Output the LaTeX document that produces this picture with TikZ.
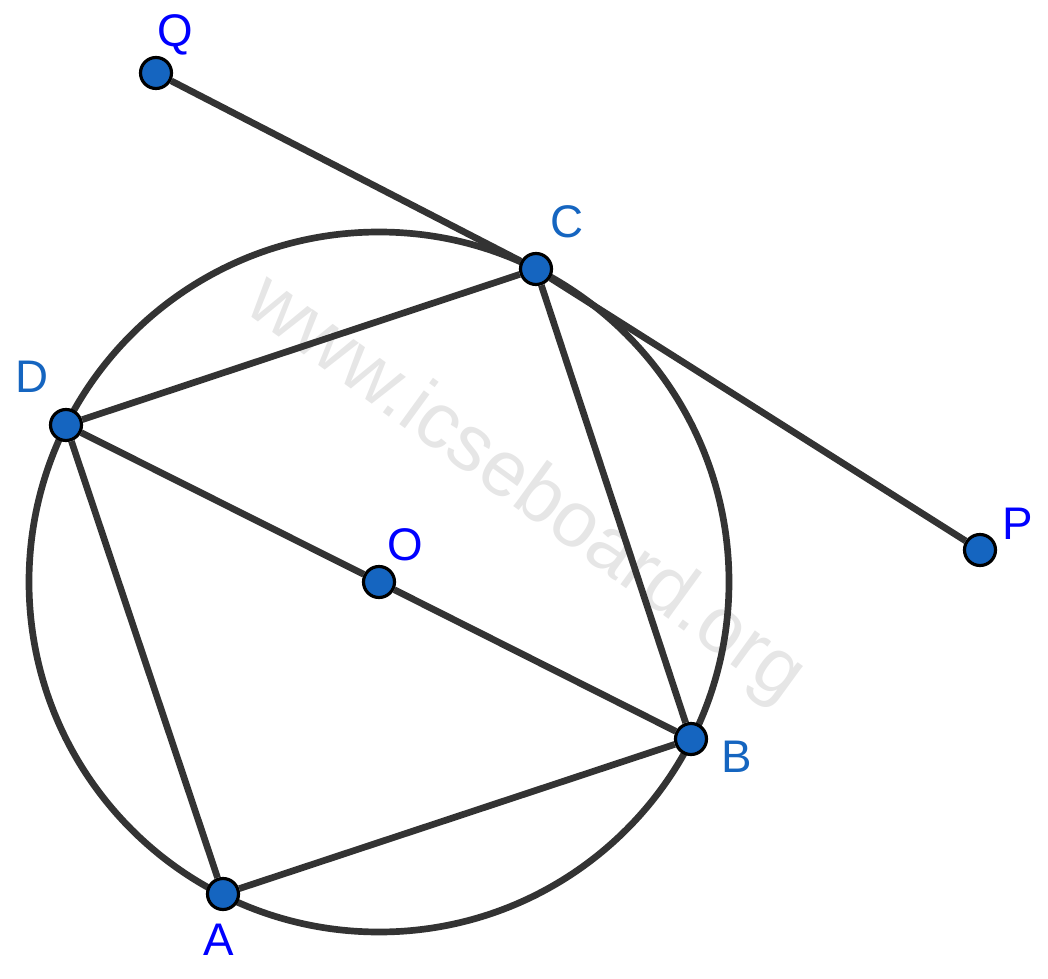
\documentclass[tikz,border=0pt]{standalone}
\usepackage{fontspec}
\setmainfont{Liberation Sans}
\usepackage{tikz}

\definecolor{segcol}{HTML}{333333}
\definecolor{dotcol}{HTML}{1565C0}
\definecolor{marks}{HTML}{E6E6E6}

\tikzset{
  pt/.style={circle,draw=black,fill=dotcol,line width=0.9pt,minimum size=0.31cm,inner sep=0pt},
  seg/.style={segcol,line width=1.9pt},
  lbl/.style={font=\fontsize{13}{15}\selectfont,text=blue},
  lbl2/.style={lbl,text=dotcol}
}

\begin{document}
\begin{tikzpicture}[x=0.01cm,y=-0.01cm]
\useasboundingbox (0,0) rectangle (1048,979);
% watermark
\node[text=marks,font=\fontsize{22.5}{26}\selectfont,rotate=-36] (wm) at (525,490) {www.icseboard.org};
\draw[seg] (379,582) circle (350);
% points
\node[pt] (Q) at (156,73) {};
\node[pt] (C) at (536,269) {};
\node[pt] (P) at (980,550) {};
\node[pt] (D) at (66,425) {};
\node[pt] (O) at (379,582) {};
\node[pt] (B) at (691,739) {};
\node[pt] (A) at (223,894) {};
% sides
\draw[seg] (Q) -- (C) -- (P);
\draw[seg] (D) -- (C) -- (B) -- (A) -- (D);
\draw[seg] (D) -- (O) -- (B);
% labels
\node[lbl] (qlab) at (175,35) {Q};
\node[lbl2] (clab) at (567,222) {C};
\node[lbl2] (dlab) at (32,377) {D};
\node[lbl] (olab) at (405,545) {O};
\node[lbl] (plab) at (1018,524) {P};
\node[lbl2] (blab) at (737,757) {B};
\node[lbl] (alab) at (219,940) {A};
\end{tikzpicture}
\end{document}
